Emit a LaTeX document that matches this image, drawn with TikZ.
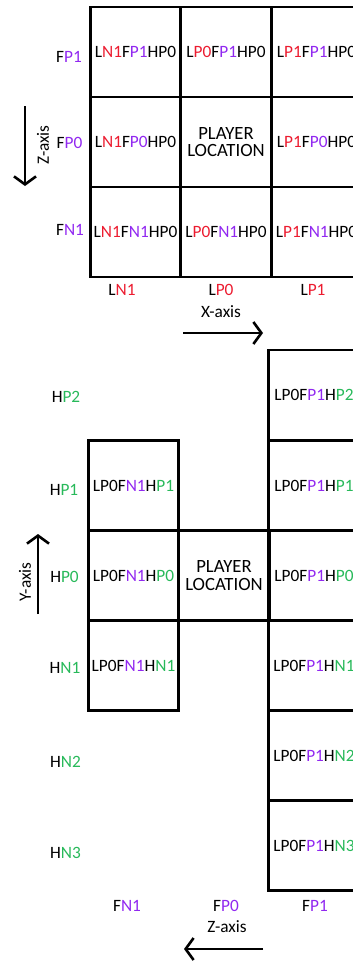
\documentclass[tikz,border=0pt]{standalone}
\usepackage{fontspec}
\setmainfont{Carlito}
\usetikzlibrary{arrows.meta}

% coloured parts of the cell codes
\newcommand{\cl}[1]{\textcolor{axl}{#1}}
\newcommand{\cf}[1]{\textcolor{axf}{#1}}
\newcommand{\ch}[1]{\textcolor{axh}{#1}}

\begin{document}
\begin{tikzpicture}[x=1pt, y=-1pt,
    font=\fontsize{17.3}{19}\selectfont,
    cell/.style={draw, line width=2.8pt, minimum width=90.5pt, minimum height=90pt,
        inner sep=0pt, align=center},
    player/.style={cell, font=\fontsize{18.7}{17.5}\selectfont},
    lbl/.style={inner sep=0pt},
    axis/.style={line width=2.6pt, -{Straight Barb[length=8pt,width=22pt]}}]
    \definecolor{axl}{RGB}{236,28,48}
    \definecolor{axf}{RGB}{145,40,240}
    \definecolor{axh}{RGB}{40,185,90}

    \useasboundingbox (0,0) rectangle (353,961);
    \clip (0,0) rectangle (353,961);

    % top view: X against Z
    \node[cell] (t-n1-p1) at (135.5,52) {L\cl{N1}F\cf{P1}HP0};
    \node[cell] (t-p0-p1) at (226,52) {L\cl{P0}F\cf{P1}HP0};
    \node[cell] (t-p1-p1) at (316.5,52) {L\cl{P1}F\cf{P1}HP0};
    \node[cell] (t-n1-p0) at (135.5,142) {L\cl{N1}F\cf{P0}HP0};
    \node[player] (t-p0-p0) at (226,142) {PLAYER\\LOCATION};
    \node[cell] (t-p1-p0) at (316.5,142) {L\cl{P1}F\cf{P0}HP0};
    \node[cell] (t-n1-n1) at (135.5,232) {L\cl{N1}F\cf{N1}HP0};
    \node[cell] (t-p0-n1) at (226,232) {L\cl{P0}F\cf{N1}HP0};
    \node[cell] (t-p1-n1) at (316.5,232) {L\cl{P1}F\cf{N1}HP0};

    \node[lbl] (zp1) at (69,57) {F\cf{P1}};
    \node[lbl] (zp0) at (69.5,143) {F\cf{P0}};
    \node[lbl] (zn1) at (70,230) {F\cf{N1}};
    \node[lbl] (ln1) at (122,290) {L\cl{N1}};
    \node[lbl] (lp0) at (221,290) {L\cl{P0}};
    \node[lbl] (lp1) at (313,290) {L\cl{P1}};

    \node[lbl] (xaxis) at (221,312) {X-axis};
    \coordinate (xa-s) at (183,333);
    \coordinate (xa-e) at (263,333);
    \draw[axis] (xa-s) -- (xa-e);

    \node[lbl, rotate=90] (zaxis1) at (43,145) {Z-axis};
    \coordinate (za1-s) at (25,106);
    \coordinate (za1-e) at (25,186);
    \draw[axis] (za1-s) -- (za1-e);

    % side view: Z against Y
    \node[cell] (s-n1-p1) at (133.5,485.5) {LP0F\cf{N1}H\ch{P1}};
    \node[cell] (s-n1-p0) at (133.5,575.5) {LP0F\cf{N1}H\ch{P0}};
    \node[cell] (s-n1-n1) at (133.5,665.5) {LP0F\cf{N1}H\ch{N1}};
    \node[player] (s-p0-p0) at (224,575.5) {PLAYER\\LOCATION};
    \node[cell] (s-p1-p2) at (314,395) {LP0F\cf{P1}H\ch{P2}};
    \node[cell] (s-p1-p1) at (314,485.5) {LP0F\cf{P1}H\ch{P1}};
    \node[cell] (s-p1-p0) at (314,575.5) {LP0F\cf{P1}H\ch{P0}};
    \node[cell] (s-p1-n1) at (314,665.5) {LP0F\cf{P1}H\ch{N1}};
    \node[cell] (s-p1-n2) at (314,755.5) {LP0F\cf{P1}H\ch{N2}};
    \node[cell] (s-p1-n3) at (314,845.5) {LP0F\cf{P1}H\ch{N3}};

    \node[lbl] (hp2) at (66,397) {H\ch{P2}};
    \node[lbl] (hp1) at (64,490) {H\ch{P1}};
    \node[lbl] (hp0) at (64.5,577) {H\ch{P0}};
    \node[lbl] (hn1) at (65,668) {H\ch{N1}};
    \node[lbl] (hn2) at (65.5,762) {H\ch{N2}};
    \node[lbl] (hn3) at (65.5,853) {H\ch{N3}};
    \node[lbl] (fn1) at (127,906) {F\cf{N1}};
    \node[lbl] (fp0) at (226,906) {F\cf{P0}};
    \node[lbl] (fp1) at (315,906) {F\cf{P1}};

    \node[lbl] (zaxis2) at (227,927) {Z-axis};
    \coordinate (za2-s) at (263,949);
    \coordinate (za2-e) at (184,949);
    \draw[axis] (za2-s) -- (za2-e);

    \node[lbl, rotate=90] (yaxis) at (25,582) {Y-axis};
    \coordinate (ya-s) at (38,614);
    \coordinate (ya-e) at (38,534);
    \draw[axis] (ya-s) -- (ya-e);
\end{tikzpicture}
\end{document}
